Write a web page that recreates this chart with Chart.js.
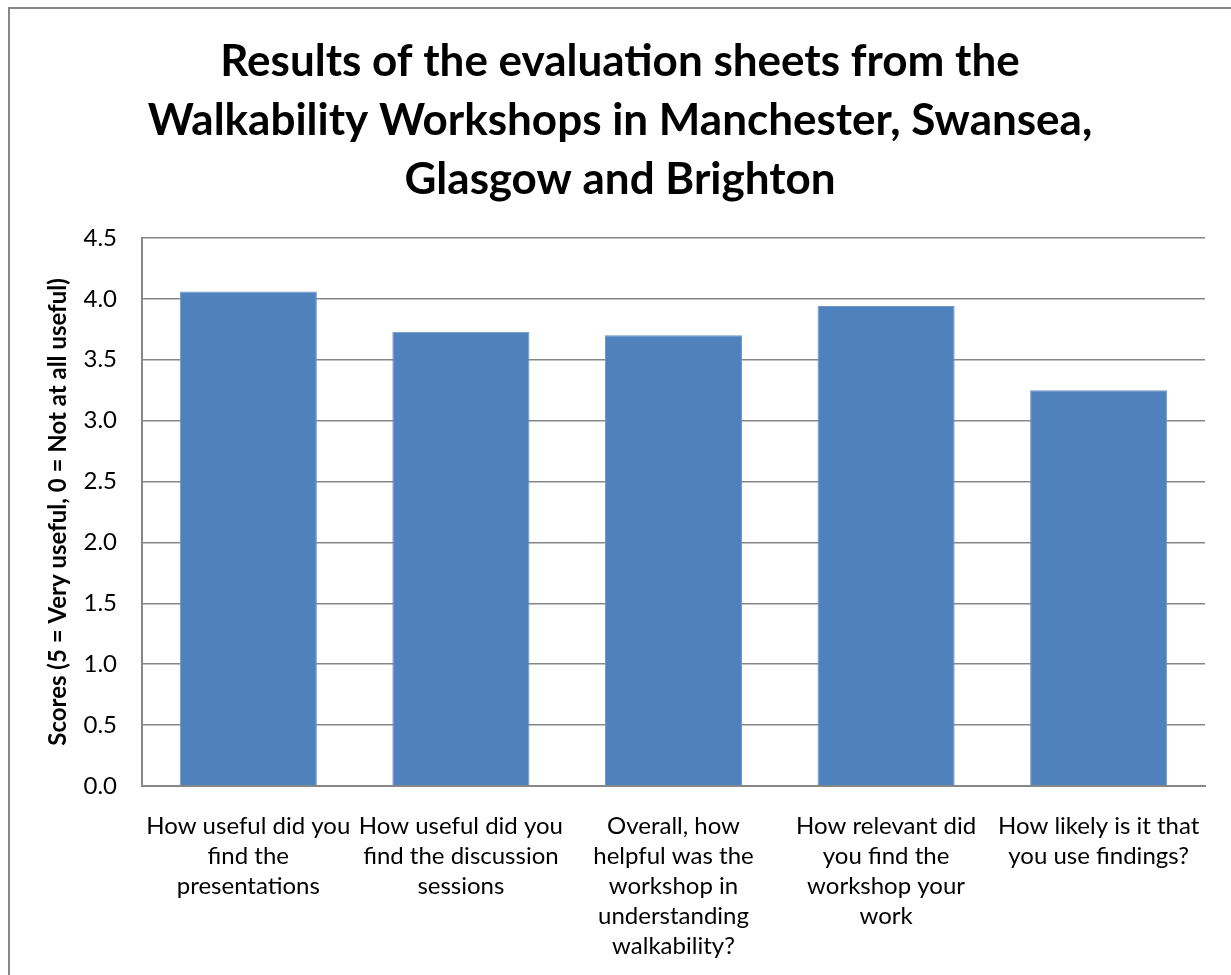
<!DOCTYPE html>
<html><head><meta charset="utf-8">
<script src="https://cdn.jsdelivr.net/npm/chart.js@4"></script>
<style>html,body{margin:0;padding:0;background:#fff}#wrap{width:1231px;height:975px;position:relative}</style>
</head><body><div id="wrap"><canvas id="c" width="1231" height="975"></canvas></div>
<script>
const categories = [
  ["How useful did you","find the","presentations"],
  ["How useful did you","find the discussion","sessions"],
  ["Overall, how","helpful was the","workshop in","understanding","walkability?"],
  ["How relevant did","you find the","workshop your","work"],
  ["How likely is it that","you use findings?"]
];
const scores = [4.06, 3.73, 3.70, 3.94, 3.25];
const titleLines = ["Results of the evaluation sheets from the","Walkability Workshops in Manchester, Swansea,","Glasgow and Brighton"];
const yTitle = "Scores (5 = Very useful, 0 = Not at all useful)";
const FONT = "Lato, 'Open Sans', sans-serif";

const frame = {
  id:'frame',
  beforeDraw(chart){
    const ctx=chart.ctx; ctx.save();
    ctx.fillStyle='#fff'; ctx.fillRect(0,0,chart.width,chart.height);
    ctx.strokeStyle='#878787'; ctx.lineWidth=2;
    ctx.strokeRect(9,8,chart.width+20,chart.height+20);
    ctx.restore();
  }
};

new Chart(document.getElementById('c'),{
  type:'bar',
  data:{labels:categories,datasets:[{data:scores,backgroundColor:'#4F81BD',borderColor:'#6D95C8',borderWidth:1,categoryPercentage:1,barPercentage:0.645}]},
  options:{
    responsive:false,animation:false,
    layout:{padding:{left:9,right:0,top:0,bottom:0}},
    plugins:{
      legend:{display:false},tooltip:{enabled:false},
      title:{display:true,text:titleLines,color:'#000',font:{family:FONT,size:44,weight:'bold',lineHeight:1.34},padding:{top:32,bottom:29}}
    },
    scales:{
      x:{
        grid:{display:false,drawTicks:false},
        border:{display:true,color:'#878787',width:2},
        ticks:{color:'#000',font:{family:FONT,size:24,lineHeight:1.25},padding:25,maxRotation:0,autoSkip:false},
        afterFit(s){s.height=189;}
      },
      y:{
        min:0,max:4.5,
        grid:{color:'#878787',lineWidth:1.5,drawTicks:false},
        border:{display:true,color:'#878787',width:2},
        ticks:{stepSize:0.5,color:'#000',font:{family:FONT,size:24},padding:25,callback:v=>v.toFixed(1)},
        title:{display:true,text:yTitle,color:'#000',font:{family:FONT,size:24,weight:'bold',lineHeight:1.2},padding:{top:34.6,bottom:0}},
        afterFit(s){s.width=133;}
      },
      yRight:{
        position:'right',display:true,min:0,max:4.5,
        grid:{display:false,drawTicks:false},border:{display:false},
        ticks:{display:false},
        afterFit(s){s.width=26;}
      }
    }
  },
  plugins:[frame]
});
</script></body></html>
